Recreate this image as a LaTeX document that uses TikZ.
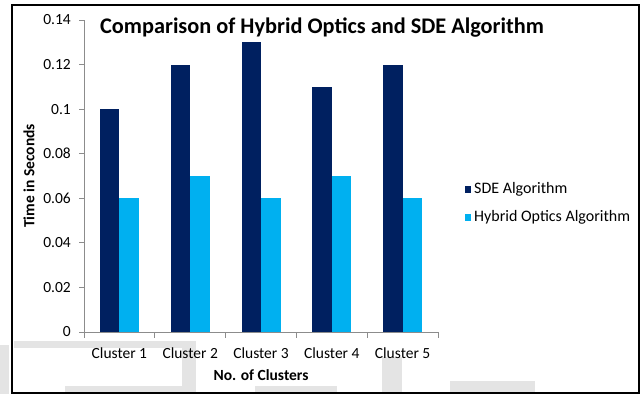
\documentclass[tikz,border=0pt]{standalone}
\usepackage{fontspec}
\setmainfont{Carlito}
\definecolor{sde}{RGB}{0,32,96}
\definecolor{hyb}{RGB}{0,176,240}
\definecolor{wm}{RGB}{228,228,228}
\begin{document}
\begin{tikzpicture}[x=1bp,y=-1bp,
  lbl/.style={font=\fontsize{15.5bp}{18bp}\selectfont, inner sep=0pt},
  leg/.style={font=\fontsize{16bp}{18bp}\selectfont, inner sep=0pt},
  blbl/.style={font=\fontsize{15.5bp}{18bp}\selectfont\bfseries, inner sep=0pt},
  axisline/.style={draw=black!45, line width=0.8bp},
  sdebar/.style={fill=sde},
  hybbar/.style={fill=hyb}]
\useasboundingbox (0,0) rectangle (644,394);
\fill[white] (0,0) rectangle (644,394);
% faint background marks
\fill[wm] (0,345) rectangle (9,394);
\fill[wm] (14,341) rectangle (195,348);
\fill[wm] (182,341) rectangle (196,392);
\fill[wm] (65,386) rectangle (196,392);
\fill[wm] (255,386) rectangle (337,392);
\fill[wm] (382,357) rectangle (402,392);
\fill[wm] (450,381) rectangle (535,392);
% frame
\draw[black, line width=1.4bp] (12,5) rectangle (639,393);
% title
\node[font=\fontsize{22.3bp}{25bp}\selectfont\bfseries, inner sep=0pt] (title) at (322,28) {Comparison of Hybrid Optics and SDE Algorithm};
% bars
\foreach \i/\a/\b in {0/0.10/0.06, 1/0.12/0.07, 2/0.13/0.06, 3/0.11/0.07, 4/0.12/0.06}{
  \pgfmathsetmacro\c{84+(\i+0.5)*70.8}
  \fill[sdebar] (\c-19.5,332) rectangle (\c,332-\a*2228.6);
  \fill[hybbar] (\c,332) rectangle (\c+19.5,332-\b*2228.6);
}
% axes
\coordinate (o) at (84,332);
\coordinate (ytop) at (84,20);
\coordinate (xend) at (438,332);
\draw[axisline] (ytop) -- (o) -- (xend);
\foreach \v/\t in {0/0, 1/0.02, 2/0.04, 3/0.06, 4/0.08, 5/0.1, 6/0.12, 7/0.14}{
  \draw[axisline] (79,332-\v*44.58) -- (84,332-\v*44.58);
  \node[lbl, anchor=east] (yt\v) at (71,332-\v*44.58) {\t};
}
\foreach \i in {0,...,5}{
  \draw[axisline] (84+\i*70.8,332) -- (84+\i*70.8,338);
}
\foreach \i in {1,...,5}{
  \node[lbl] (c\i) at (84+\i*70.8-35.4,353) {Cluster \i};
}
\node[blbl] (xlab) at (261,375) {No. of Clusters};
\node[blbl, rotate=90] (ylab) at (29,176) {Time in Seconds};
% legend
\fill[sdebar] (464.5,185.5) rectangle (471,192.5);
\node[leg, anchor=west] (l1) at (474,189) {SDE Algorithm};
\fill[hybbar] (464.5,213.5) rectangle (471,220.5);
\node[leg, anchor=west] (l2) at (474,217) {Hybrid Optics Algorithm};
\end{tikzpicture}
\end{document}
